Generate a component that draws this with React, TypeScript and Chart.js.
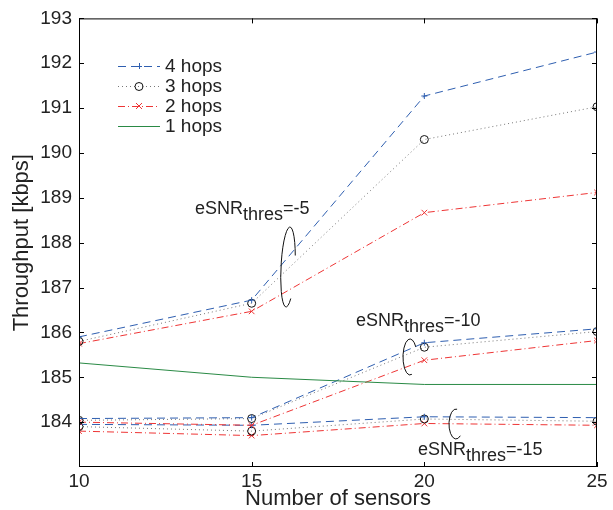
import React, { useEffect, useRef } from "react";
import { Chart, registerables } from "chart.js";

Chart.register(...registerables);

const sensors = [10, 15, 20, 25];
const yTicks = [184, 185, 186, 187, 188, 189, 190, 191, 192, 193];
const xTicks = [10, 15, 20, 25];

const hops4_m5 = [185.9, 186.72, 191.27, 192.25];
const hops3_m5 = [185.8, 186.65, 190.3, 191.03];
const hops2_m5 = [185.75, 186.47, 188.67, 189.12];
const hops4_m10 = [184.08, 184.1, 185.77, 186.08];
const hops3_m10 = [184.04, 184.08, 185.67, 186.02];
const hops2_m10 = [184.0, 183.93, 185.38, 185.82];
const hops4_m15 = [183.95, 183.93, 184.12, 184.1];
const hops3_m15 = [183.9, 183.8, 184.07, 184.02];
const hops2_m15 = [183.8, 183.7, 183.97, 183.93];
const hops1 = [185.32, 185.0, 184.84, 184.84];

const legendLabels = ["4 hops", "3 hops", "2 hops", "1 hops"];

const FONT = "'Liberation Sans', Arial, Helvetica, sans-serif";
const BLUE = "#2f5fb0";
const GRAY = "#777777";
const RED = "#ee3535";
const GREEN = "#2a8a45";

const styles = {
  h4: { borderColor: BLUE, borderDash: [8, 5], pointStyle: "cross", pointRadius: 3, pointBorderColor: BLUE },
  h3: { borderColor: GRAY, borderDash: [1, 3], pointStyle: "circle", pointRadius: 4, pointBorderColor: "#111111" },
  h2: { borderColor: RED, borderDash: [7, 3, 1, 3], pointStyle: "crossRot", pointRadius: 4, pointBorderColor: RED },
  h1: { borderColor: GREEN, borderDash: [], pointStyle: false as any, pointRadius: 0, pointBorderColor: GREEN },
};

function mk(values: number[], st: any) {
  return {
    data: values.map((v, i) => ({ x: sensors[i], y: v })),
    borderWidth: 1,
    fill: false,
    tension: 0,
    pointBackgroundColor: "rgba(0,0,0,0)",
    pointBorderWidth: 1,
    ...st,
  };
}

const annoPlugin = {
  id: "anno",
  afterDraw(chart: any) {
    const ctx = chart.ctx as CanvasRenderingContext2D;
    const { left, right, top, bottom } = chart.chartArea;
    const xs = chart.scales.x;
    const ys = chart.scales.y;
    ctx.save();
    ctx.strokeStyle = "#000";
    ctx.lineWidth = 1;
    ctx.setLineDash([]);
    ctx.strokeRect(left + 0.5, top + 0.5, right - left - 1, bottom - top - 1);
    ctx.beginPath();
    for (const t of yTicks) {
      const y = Math.round(ys.getPixelForValue(t)) + 0.5;
      ctx.moveTo(left, y);
      ctx.lineTo(left + 5, y);
      ctx.moveTo(right, y);
      ctx.lineTo(right - 5, y);
    }
    for (const t of xTicks) {
      const x = Math.round(xs.getPixelForValue(t)) + 0.5;
      ctx.moveTo(x, bottom);
      ctx.lineTo(x, bottom - 5);
      ctx.moveTo(x, top);
      ctx.lineTo(x, top + 5);
    }
    ctx.stroke();

    const legendStyles = [styles.h4, styles.h3, styles.h2, styles.h1];
    legendLabels.forEach((lab, i) => {
      const y = 66 + i * 20;
      const st: any = legendStyles[i];
      ctx.strokeStyle = st.borderColor;
      ctx.setLineDash(st.borderDash);
      ctx.lineWidth = 1;
      ctx.beginPath();
      ctx.moveTo(118, y + 0.5);
      ctx.lineTo(160, y + 0.5);
      ctx.stroke();
      ctx.setLineDash([]);
      ctx.strokeStyle = st.pointBorderColor;
      const mx = 139;
      if (st.pointStyle === "cross") {
        ctx.beginPath();
        ctx.moveTo(mx - 3, y + 0.5);
        ctx.lineTo(mx + 3, y + 0.5);
        ctx.moveTo(mx + 0.5, y - 3);
        ctx.lineTo(mx + 0.5, y + 3);
        ctx.stroke();
      } else if (st.pointStyle === "circle") {
        ctx.beginPath();
        ctx.arc(mx, y + 0.5, 4, 0, Math.PI * 2);
        ctx.stroke();
      } else if (st.pointStyle === "crossRot") {
        ctx.beginPath();
        ctx.moveTo(mx - 3, y - 3);
        ctx.lineTo(mx + 3, y + 3);
        ctx.moveTo(mx + 3, y - 3);
        ctx.lineTo(mx - 3, y + 3);
        ctx.stroke();
      }
      ctx.fillStyle = "#222";
      ctx.font = `19px ${FONT}`;
      ctx.textBaseline = "middle";
      ctx.textAlign = "left";
      ctx.fillText(lab, 165, y + 1);
    });

    const label = (x: number, y: number, tail: string) => {
      ctx.fillStyle = "#222";
      ctx.textBaseline = "alphabetic";
      ctx.textAlign = "left";
      ctx.font = `18px ${FONT}`;
      ctx.fillText("eSNR", x, y);
      let w = ctx.measureText("eSNR").width;
      ctx.fillText("thres", x + w, y + 6);
      w += ctx.measureText("thres").width;
      ctx.fillText(tail, x + w, y);
    };
    label(195, 214, "=-5");
    label(356, 326, "=-10");
    label(418, 455, "=-15");

    ctx.strokeStyle = "#111";
    ctx.lineWidth = 1;
    ctx.setLineDash([]);
    ctx.beginPath();
    ctx.ellipse(288, 267, 7, 40, 0.05, 0.9, Math.PI * 2 - 0.3);
    ctx.stroke();
    ctx.beginPath();
    ctx.ellipse(410, 357, 7, 18, 0, 1.3, Math.PI * 2 - 0.6);
    ctx.stroke();
    ctx.beginPath();
    ctx.ellipse(456, 424, 7, 15, 0, 0.9, Math.PI * 1.55);
    ctx.stroke();
    ctx.restore();
  },
};

export default function App() {
  const ref = useRef<HTMLCanvasElement>(null);
  useEffect(() => {
    if (!ref.current) return;
    const chart = new Chart(ref.current, {
      type: "line",
      data: {
        datasets: [
          mk(hops4_m5, styles.h4),
          mk(hops3_m5, styles.h3),
          mk(hops2_m5, styles.h2),
          mk(hops1, styles.h1),
          mk(hops4_m10, styles.h4),
          mk(hops3_m10, styles.h3),
          mk(hops2_m10, styles.h2),
          mk(hops4_m15, styles.h4),
          mk(hops3_m15, styles.h3),
          mk(hops2_m15, styles.h2),
        ] as any,
      },
      options: {
        animation: false,
        responsive: false,
        layout: { padding: { top: 17, right: 16, left: 0, bottom: 0 } },
        plugins: { legend: { display: false }, tooltip: { enabled: false } },
        scales: {
          x: {
            type: "linear",
            min: 10,
            max: 25,
            grid: { display: false, drawTicks: false },
            border: { display: false },
            afterBuildTicks: (s: any) => {
              s.ticks = xTicks.map((v) => ({ value: v }));
            },
            afterFit: (s: any) => {
              s.height = 43;
            },
            ticks: { color: "#222", padding: 3, font: { family: FONT, size: 19 }, maxRotation: 0 },
            title: {
              display: true,
              text: "Number of sensors",
              color: "#222",
              font: { family: FONT, size: 22, lineHeight: 1 },
              padding: { top: 0, bottom: 0 },
            },
          },
          y: {
            type: "linear",
            min: 183,
            max: 193,
            grid: { display: false, drawTicks: false },
            border: { display: false },
            afterBuildTicks: (s: any) => {
              s.ticks = yTicks.map((v) => ({ value: v }));
            },
            afterFit: (s: any) => {
              s.width = 79;
            },
            ticks: { color: "#222", padding: 7, font: { family: FONT, size: 19 } },
            title: {
              display: true,
              text: "Throughput [kbps]",
              color: "#222",
              font: { family: FONT, size: 22, lineHeight: 1 },
              padding: { top: 11, bottom: 0 },
            },
          },
        },
      },
      plugins: [annoPlugin],
    });
    return () => chart.destroy();
  }, []);
  return (
    <div style={{ position: "absolute", left: 0, top: 0, width: 613, height: 510, background: "#fff" }}>
      <canvas ref={ref} width={613} height={510} style={{ width: 613, height: 510 }} />
    </div>
  );
}
